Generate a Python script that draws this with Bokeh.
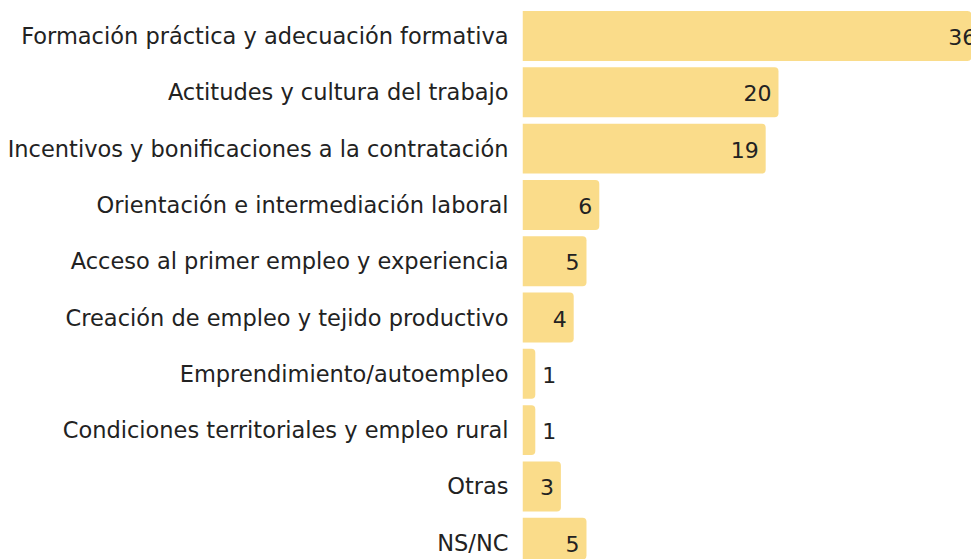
from bokeh.plotting import figure
from bokeh.models import ColumnDataSource, Range1d, FixedTicker
from bokeh.core.properties import value
from bokeh.embed import file_html
from bokeh.resources import INLINE

categories = [
    "Formación práctica y adecuación formativa",
    "Actitudes y cultura del trabajo",
    "Incentivos y bonificaciones a la contratación",
    "Orientación e intermediación laboral",
    "Acceso al primer empleo y experiencia",
    "Creación de empleo y tejido productivo",
    "Emprendimiento/autoempleo",
    "Condiciones territoriales y empleo rural",
    "Otras",
    "NS/NC",
]
values = [36, 20, 19, 6, 5, 4, 1, 1, 3, 5]

FONT = "DejaVu Sans"
BAR = "#FADC8A"
TXT = "#222222"

idx = list(range(len(categories)))
src = ColumnDataSource(dict(y=idx, v=values, lab=[str(v) for v in values]))
inside_i = [i for i, v in enumerate(values) if v >= 3]
outside_i = [i for i, v in enumerate(values) if v < 3]
src_in = ColumnDataSource(dict(y=inside_i, v=[values[i] for i in inside_i], lab=[str(values[i]) for i in inside_i]))
src_out = ColumnDataSource(dict(y=outside_i, v=[values[i] for i in outside_i], lab=[str(values[i]) for i in outside_i]))

p = figure(width=971, height=559, output_backend="svg", toolbar_location=None,
           x_range=Range1d(0, 35.08), y_range=Range1d(9.298, -0.631),
           min_border_left=522, min_border_right=0, min_border_top=0, min_border_bottom=0,
           outline_line_color=None, background_fill_color="white", border_fill_color="white")

p.hbar(y="y", right="v", left=0, height=0.888, source=src, fill_color=BAR, line_color=None,
       border_radius=(0, 4, 4, 0))

p.text(x="v", y="y", text="lab", source=src_in, text_align="right", text_baseline="middle",
       x_offset=-7, y_offset=1, text_font=value(FONT), text_font_size="22px", text_color=TXT)
p.text(x="v", y="y", text="lab", source=src_out, text_align="left", text_baseline="middle",
       x_offset=7, y_offset=1, text_font=value(FONT), text_font_size="22px", text_color=TXT)

p.xaxis.visible = False
p.xgrid.visible = False
p.ygrid.visible = False
ya = p.yaxis[0]
ya.ticker = FixedTicker(ticks=idx)
ya.major_label_overrides = {i: c for i, c in enumerate(categories)}
ya.axis_line_color = None
ya.major_tick_line_color = None
ya.minor_tick_line_color = None
ya.major_tick_out = 0
ya.major_tick_in = 0
ya.major_label_standoff = 14
ya.major_label_text_font = FONT
ya.major_label_text_font_size = "22.5px"
ya.major_label_text_color = TXT

open("out.html", "w").write(file_html(p, INLINE))
